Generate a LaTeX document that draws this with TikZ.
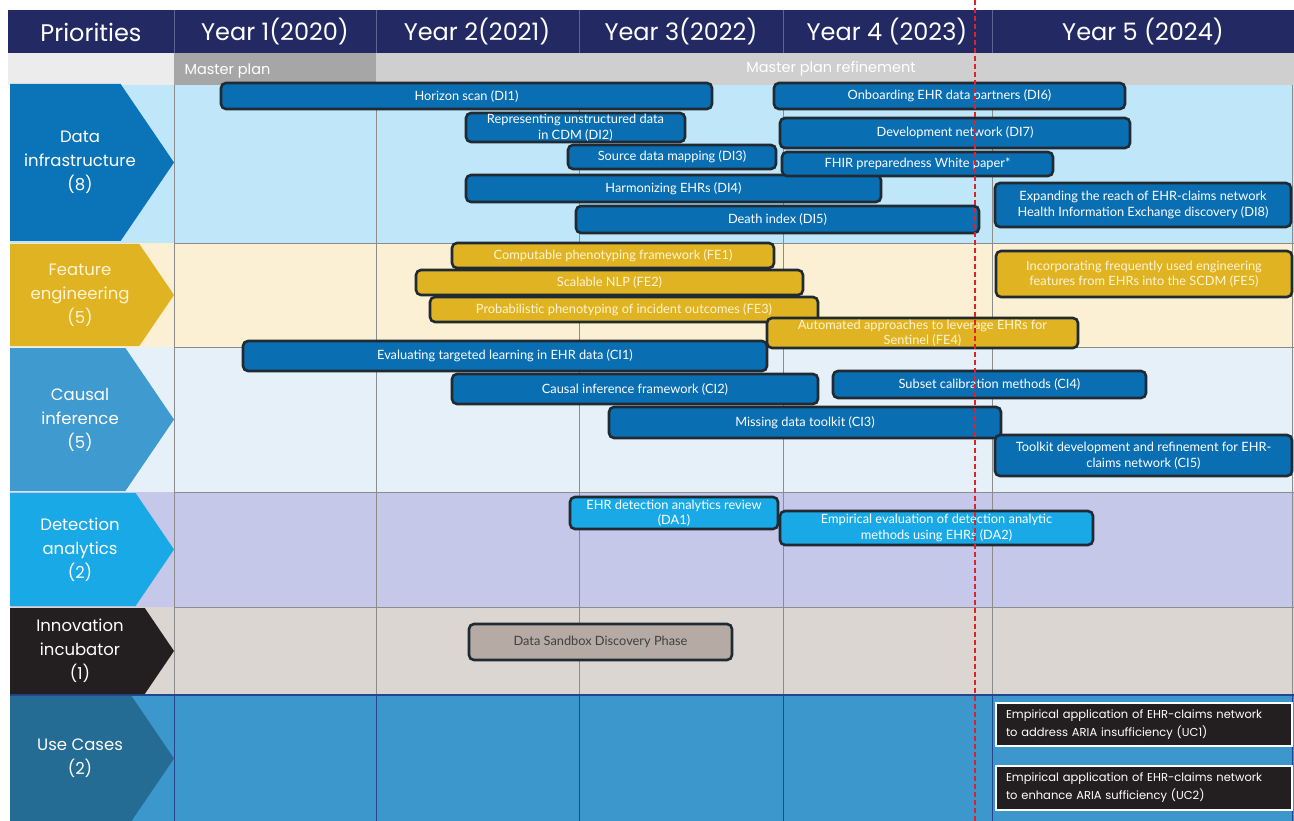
\documentclass[tikz,border=0pt]{standalone}
\usepackage{fontspec}
\setmainfont{Lato}
\newfontfamily\headfont{Poppins}
\newfontfamily\barff{Lato}
\definecolor{navy}{HTML}{232A63}
\definecolor{hdiv}{HTML}{5E6492}
\definecolor{dichev}{HTML}{0B74B8}
\definecolor{barblue}{HTML}{0A6EB3}
\definecolor{dibg}{HTML}{C0E6FA}
\definecolor{fegold}{HTML}{E0B322}
\definecolor{febg}{HTML}{FBF0D3}
\definecolor{fetext}{HTML}{FFF4D4}
\definecolor{cichev}{HTML}{3F9AD0}
\definecolor{cibg}{HTML}{E6F0F8}
\definecolor{dacyan}{HTML}{18A9E6}
\definecolor{dabg}{HTML}{C6C8EA}
\definecolor{iiblack}{HTML}{231F20}
\definecolor{iibg}{HTML}{DBD6D1}
\definecolor{ucchev}{HTML}{246C93}
\definecolor{ucbg}{HTML}{3C97CC}
\definecolor{ucgrid}{HTML}{23478A}
\definecolor{barline}{HTML}{1F2A33}
\definecolor{sandbox}{HTML}{B5AAA4}
\definecolor{gridgray}{HTML}{8C8C8C}
\definecolor{mpdark}{HTML}{A6A6A6}
\definecolor{mplight}{HTML}{CFCFCF}
\definecolor{mpleft}{HTML}{ECECEC}
\definecolor{todayred}{HTML}{E0202A}
\newcommand{\gbar}[7]{\node[#2, minimum width={(#5-#3)*1pt}, minimum height={(#6-#4)*1pt}] (#1) at ({(#3+#5)/2},{(#4+#6)/2}) {#7};}
\newcommand{\chev}[6]{%
  \fill[#2] (10,#3) -- ({174-0.68*(#4-#3)/2},#3) -- (174,{(#3+#4)/2}) -- ({174-0.68*(#4-#3)/2},#4) -- (10,#4) -- cycle;
  \node[chevtext, text=#5] (#1) at (80,{(#3+#4)/2}) {#6};}
\tikzset{
  gbarbase/.style={draw=barline, line width=2.6pt, rounded corners=5pt, inner sep=0pt, align=center,
     font=\barff\fontsize{12.8}{15.5}\selectfont, text=white},
  bluebar/.style={gbarbase, fill=barblue},
  goldbar/.style={gbarbase, fill=fegold, text=fetext},
  cyanbar/.style={gbarbase, fill=dacyan},
  sandbar/.style={gbarbase, fill=sandbox, text=black!75},
  ucbox/.style={draw=white, line width=2.5pt, fill=iiblack, text=white, align=left, inner sep=0pt,
     text width=276pt, font=\headfont\fontsize{11.5}{18}\selectfont},
  chevtext/.style={align=center, font=\headfont\fontsize{16.5}{24}\selectfont},
  headtext/.style={text=white, font=\headfont\fontsize{24}{28}\selectfont},
  mptext/.style={text=white, font=\headfont\fontsize{14.5}{17}\selectfont},
  gridline/.style={draw=gridgray, line width=0.9pt},
}
\begin{document}
\begin{tikzpicture}[x=1pt,y=-1pt]
\useasboundingbox (0,0) rectangle (1294,821);
\fill[white] (0,0) rectangle (1294,821);
% header
\fill[navy] (8,10) rectangle (1294,53);
\foreach \xx in {174,376,579,783,992} \draw[hdiv, line width=0.8pt] (\xx,10) -- (\xx,53);
\node[headtext] (hp) at (91,32) {Priorities};
\node[headtext] (h1) at (275,32) {Year 1(2020)};
\node[headtext] (h2) at (477,32) {Year 2(2021)};
\node[headtext] (h3) at (681,32) {Year 3(2022)};
\node[headtext] (h4) at (887,32) {Year 4 (2023)};
\node[headtext] (h5) at (1143,32) {Year 5 (2024)};
% master plan band
\fill[mpleft] (8,53) rectangle (174,85);
\fill[mpdark] (174,53) rectangle (376,85);
\fill[mplight] (376,53) rectangle (1294,85);
\node[mptext, anchor=west] (mp) at (181,71) {Master plan};
\node[mptext] (mpr) at (831,69) {Master plan refinement};
% row backgrounds
\fill[dibg] (10,85) rectangle (1294,243);
\fill[febg] (10,243) rectangle (1294,347);
\fill[cibg] (10,347) rectangle (1294,492);
\fill[dabg] (10,492) rectangle (1294,607);
\fill[iibg] (10,607) rectangle (1294,695);
\fill[ucbg] (10,695) rectangle (1294,821);
% grid
\foreach \yy in {243,347,492,607} \draw[gridline] (174,\yy) -- (1294,\yy);
\foreach \xx in {174,376,579,783,992,1292} \draw[gridline] (\xx,85) -- (\xx,695);
\draw[ucgrid, line width=1.2pt] (10,695) -- (1294,695);
\foreach \xx in {174,376,579,783,992,1292} \draw[ucgrid, line width=1pt] (\xx,695) -- (\xx,821);
% chevrons
\chev{cdi}{dichev}{84}{241}{white}{Data\\infrastructure\\(8)}
\chev{cfe}{fegold}{244}{346}{fetext}{Feature\\engineering\\(5)}
\chev{cci}{cichev}{348}{491}{white}{Causal\\inference\\(5)}
\chev{cda}{dacyan}{493}{606}{white}{Detection\\analytics\\(2)}
\chev{cii}{iiblack}{608}{694}{white}{Innovation\\incubator\\(1)}
\chev{cuc}{ucchev}{696}{821}{white}{Use Cases\\(2)}
% data infrastructure bars
\gbar{di1}{bluebar}{221}{83}{712}{109}{Horizon scan (DI1)}
\gbar{di2}{bluebar}{466}{113}{685}{142}{Representing unstructured data\\in CDM (DI2)}
\gbar{di3}{bluebar}{568}{145}{776}{169}{Source data mapping (DI3)}
\gbar{di4}{bluebar}{466}{175}{881}{202}{Harmonizing EHRs (DI4)}
\gbar{di5}{bluebar}{576}{206}{979}{233}{Death index (DI5)}
\gbar{di6}{bluebar}{774}{83}{1125}{109}{Onboarding EHR data partners (DI6)}
\gbar{di7}{bluebar}{780}{118}{1130}{148}{Development network (DI7)}
\gbar{fhir}{bluebar}{782}{152}{1053}{176}{FHIR preparedness White paper*}
\gbar{di8}{bluebar}{995}{183}{1291}{227}{Expanding the reach of EHR-claims network\\Health Information Exchange discovery (DI8)}
% feature engineering bars
\gbar{fe1}{goldbar}{452}{243}{774}{268}{Computable phenotyping framework (FE1)}
\gbar{fe2}{goldbar}{416}{270}{803}{295}{Scalable NLP (FE2)}
\gbar{fe3}{goldbar}{430}{297}{818}{322}{Probabilistic phenotyping of incident outcomes (FE3)}
\gbar{fe4}{goldbar}{767}{318}{1078}{348}{Automated approaches to leverage EHRs for\\Sentinel (FE4)}
\gbar{fe5}{goldbar}{996}{251}{1292}{297}{Incorporating frequently used engineering\\features from EHRs into the SCDM (FE5)}
% causal inference bars
\gbar{ci1}{bluebar}{243}{341}{767}{371}{Evaluating targeted learning in EHR data (CI1)}
\gbar{ci2}{bluebar}{452}{374}{818}{404}{Causal inference framework (CI2)}
\gbar{ci3}{bluebar}{609}{407}{1001}{438}{Missing data toolkit (CI3)}
\gbar{ci4}{bluebar}{833}{371}{1146}{398}{Subset calibration methods (CI4)}
\gbar{ci5}{bluebar}{995}{435}{1292}{476}{Toolkit development and refinement for EHR-\\claims network (CI5)}
% detection analytics bars
\gbar{da1}{cyanbar}{570}{497}{778}{529}{EHR detection analytics review\\(DA1)}
\gbar{da2}{cyanbar}{780}{511}{1093}{545}{Empirical evaluation of detection analytic\\methods using EHRs (DA2)}
% innovation incubator
\gbar{ii1}{sandbar}{469}{624}{732}{660}{Data Sandbox Discovery Phase}
% use cases
\gbar{uc1}{ucbox}{996}{703}{1292}{746}{Empirical application of EHR-claims network\\to address ARIA insufficiency (UC1)}
\gbar{uc2}{ucbox}{996}{766}{1292}{810}{Empirical application of EHR-claims network\\to enhance ARIA sufficiency (UC2)}
% today line
\coordinate (redtop) at (975,0);
\coordinate (redbot) at (975,821);
\draw[todayred, line width=1.2pt, dash pattern=on 5pt off 3pt] (redtop) -- (redbot);
\end{tikzpicture}
\end{document}
